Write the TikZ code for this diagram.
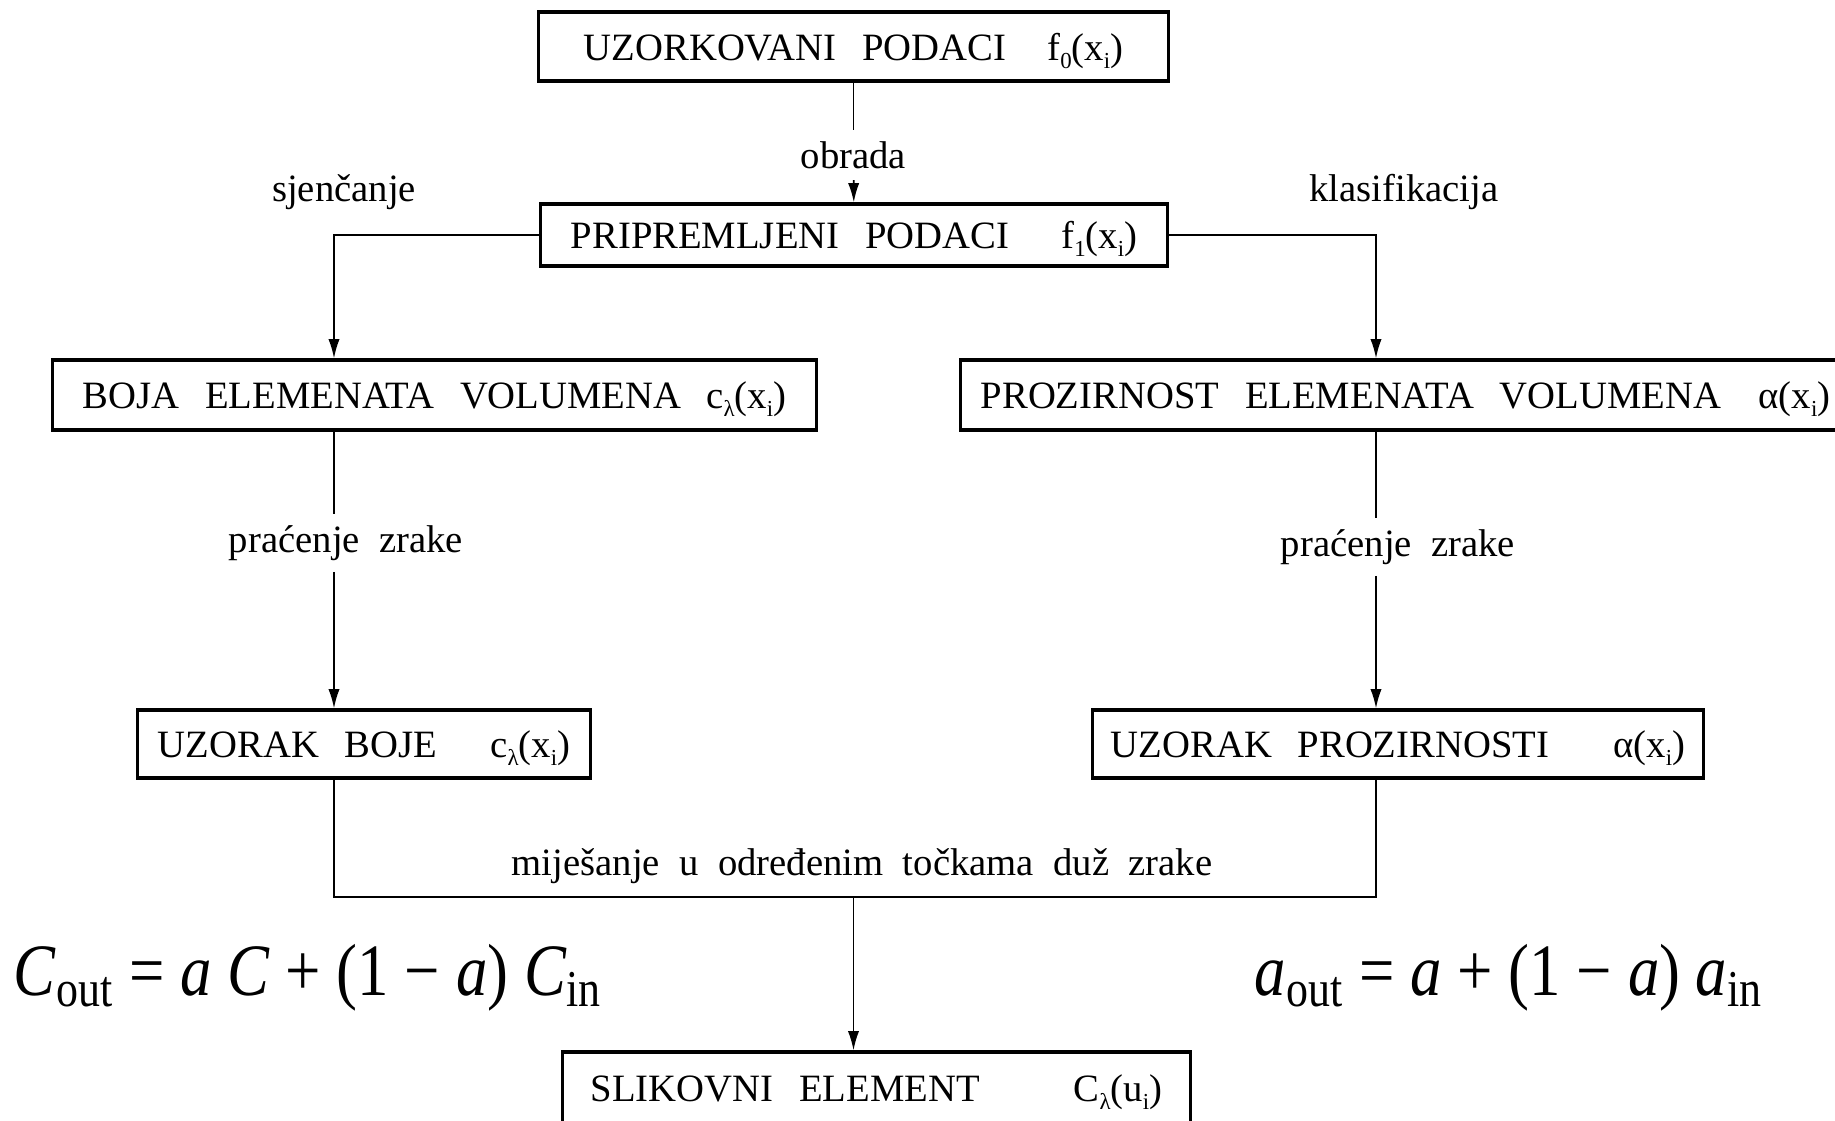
\documentclass[tikz,border=0pt]{standalone}
\usepackage{fontspec}
\setmainfont{Liberation Serif}
\usetikzlibrary{arrows.meta}
\newcommand{\subidx}[1]{\raisebox{-0.45ex}{\fontsize{6.5}{7}\selectfont #1}}
\tikzset{
  box/.style={draw, line width=0.9pt, inner xsep=0.25cm, inner ysep=0pt, align=left,
    text depth=0pt, font=\fontsize{11}{13}\selectfont},
  lbl/.style={font=\fontsize{11}{13}\selectfont, inner sep=3pt},
  frm/.style={font=\fontsize{21}{24}\selectfont, inner sep=0pt},
  >={Latex[length=5.5pt,width=3.2pt]}
}
\begin{document}
\begin{tikzpicture}[x=0.01cm, y=-0.01cm, line width=0.5pt]
      \useasboundingbox (0,0) rectangle (1835,1121);
      \clip (0,0) rectangle (1835,1121);
      \draw
        (853.5,46.5) node[box, minimum height=0.69cm, inner xsep=0.45cm, text width=5.39cm] (uzp)
          {UZORKOVANI~~PODACI\hfill f\subidx{0}(x\subidx{i})}
        (854,235) node[box, minimum height=0.62cm, inner xsep=0.3cm, text width=5.66cm] (pp)
          {PRIPREMLJENI~~PODACI\hfill f\subidx{1}(x\subidx{i})}
        (434.5,395) node[box, minimum height=0.70cm, inner xsep=0.3cm, text width=7.03cm] (boja)
          {BOJA~~ELEMENATA~~VOLUMENA\hfill c\subidx{λ}(x\subidx{i})}
        (1405.5,395) node[box, minimum height=0.70cm, inner xsep=0.2cm, text width=8.49cm] (proz)
          {PROZIRNOST~~ELEMENATA~~VOLUMENA\hfill α(x\subidx{i})}
        (364,744) node[box, minimum height=0.68cm, inner xsep=0.2cm, text width=4.12cm] (uzb)
          {UZORAK~~BOJE\hfill c\subidx{λ}(x\subidx{i})}
        (1398,744) node[box, minimum height=0.68cm, inner xsep=0.18cm, text width=5.74cm] (uzpr)
          {UZORAK~~PROZIRNOSTI\hfill α(x\subidx{i})}
        (876.5,1088) node[box, minimum height=0.72cm, inner xsep=0.28cm, text width=5.71cm] (slik)
          {SLIKOVNI~~ELEMENT\hfill C\subidx{λ}(u\subidx{i})};
      \path
        (853.5,155) node[lbl] (obr) {obrada}
        (344,192) node[lbl] (sjen) {sjenčanje}
        (1404,192) node[lbl] (klas) {klasifikacija}
        (346,543) node[lbl] (pzl) {praćenje~~zrake}
        (1398,547) node[lbl] (pzr) {praćenje~~zrake}
        (862,866) node[lbl] (mij) {miješanje~~u~~određenim~~točkama~~duž~~zrake}
        (308,978) node[frm] (cf) {\scalebox{0.85}[1]{\textit{C}\textsubscript{out} = \textit{a}~\textit{C} + (1 − \textit{a})~\textit{C}\textsubscript{in}}}
        (1509,978) node[frm] (af) {\scalebox{0.85}[1]{\textit{a}\textsubscript{out} = \textit{a} + (1 − \textit{a})~\textit{a}\textsubscript{in}}};
      \coordinate (jl) at (334,897);
      \coordinate (jm) at (853.5,897);
      \coordinate (jr) at (1376,897);
      \begin{scope}[-]
        \draw (uzp) to (obr);
        \draw[->] (obr) to (pp);
        \draw[->] (pp.west) -| (jl |- boja.north);
        \draw[->] (pp.east) -| (jr |- proz.north);
        \draw (jl |- boja.south) to (jl |- pzl.north);
        \draw[->] (jl |- pzl.south) to (jl |- uzb.north);
        \draw (jr |- proz.south) to (jr |- pzr.north);
        \draw[->] (jr |- pzr.south) to (jr |- uzpr.north);
        \draw (jl |- uzb.south) -- (jl) -- (jr) -- (jr |- uzpr.south);
        \draw[->] (jm) to (jm |- slik.north);
      \end{scope}
    \end{tikzpicture}
\end{document}
